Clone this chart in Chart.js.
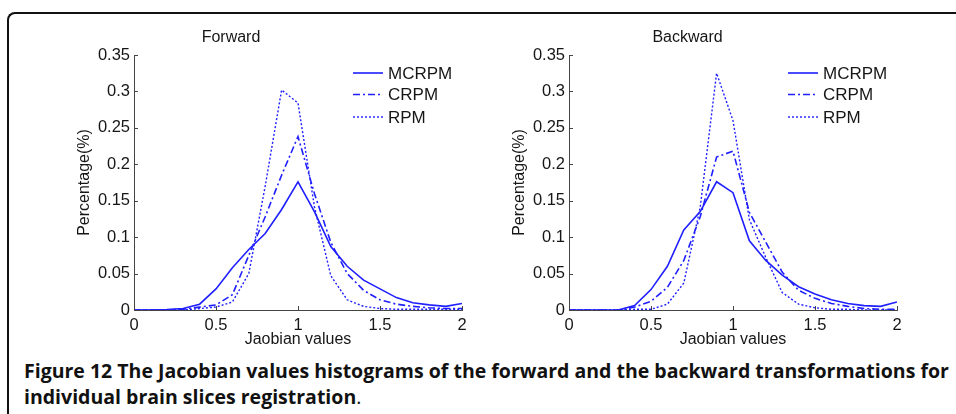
<!DOCTYPE html>
<html><head><meta charset="utf-8">
<script src="https://cdn.jsdelivr.net/npm/chart.js@4"></script>
<style>
html,body{margin:0;padding:0;background:#fff;width:956px;height:414px;overflow:hidden;position:relative;}
#frame{position:absolute;left:7px;top:12px;width:1000px;height:500px;border-top:2px solid #111;border-left:2px solid #111;border-top-left-radius:8px;}
.cv{position:absolute;top:0;}
#c1{left:0px} #c2{left:478px}
#cap{position:absolute;left:24px;top:358px;font-family:'Open Sans';font-size:15px;line-height:26px;color:#111;font-weight:700;white-space:nowrap;}
#cap .ln{display:block;}
#cap .n{font-weight:400;}
</style></head><body>
<div id="frame"></div>
<canvas id="c1" class="cv" width="478" height="350"></canvas>
<canvas id="c2" class="cv" width="478" height="350"></canvas>
<div id="cap"><span class="ln" id="l1">Figure 12 The Jacobian values histograms of the forward and the backward transformations for</span><span class="ln" id="l2">individual brain slices registration<span class="n">.</span></span></div>
<script>
const jacobianValues = [0,0.1,0.2,0.3,0.4,0.5,0.6,0.7,0.8,0.9,1.0,1.1,1.2,1.3,1.4,1.5,1.6,1.7,1.8,1.9,2.0];
const seriesNames = ['MCRPM','CRPM','RPM'];
const panelTitles = ['Forward','Backward'];
const xTickValues = [0,0.5,1,1.5,2];
const yTickValues = [0,0.05,0.1,0.15,0.2,0.25,0.3,0.35];

const forwardMCRPM  = [0,0,0.0005,0.002,0.008,0.029,0.058,0.083,0.105,0.138,0.176,0.135,0.087,0.060,0.041,0.029,0.017,0.010,0.007,0.005,0.009];
const forwardCRPM   = [0,0,0,0.001,0.004,0.007,0.021,0.075,0.128,0.185,0.238,0.160,0.093,0.050,0.027,0.014,0.008,0.005,0.003,0.002,0.002];
const forwardRPM    = [0,0,0,0,0.002,0.004,0.011,0.050,0.170,0.302,0.284,0.142,0.047,0.014,0.005,0.002,0.001,0.001,0.001,0.001,0.001];

const backwardMCRPM = [0,0,0,0,0.006,0.028,0.060,0.110,0.135,0.176,0.161,0.095,0.068,0.048,0.032,0.022,0.014,0.009,0.006,0.005,0.011];
const backwardCRPM  = [0,0,0,0,0.004,0.012,0.031,0.068,0.128,0.210,0.218,0.134,0.093,0.052,0.027,0.016,0.009,0.005,0.002,0.001,0.001];
const backwardRPM   = [0,0,0,0,0.001,0.001,0.008,0.037,0.141,0.325,0.260,0.124,0.072,0.024,0.008,0.003,0.001,0.001,0,0,0];

const LINE = '#1f1fff';
const TEXT = '#161616';
const AXIS = '#444';
const FONT = 'Liberation Sans';
const lineStyles = [
  {borderDash: [], borderWidth: 1.6},
  {borderDash: [7,3,2,3], borderWidth: 1.6},
  {borderDash: [2,2], borderWidth: 1.4}
];

const inwardTicks = {
  id: 'inwardTicks',
  afterDatasetsDraw(chart) {
    const {ctx, chartArea: a, scales: {x, y}} = chart;
    ctx.save();
    ctx.strokeStyle = AXIS; ctx.lineWidth = 1;
    ctx.beginPath();
    x.ticks.forEach(t => { const px = Math.round(x.getPixelForValue(t.value)) + 0.5; ctx.moveTo(px, a.bottom); ctx.lineTo(px, a.bottom - 4); });
    y.ticks.forEach(t => { const py = Math.round(y.getPixelForValue(t.value)) + 0.5; ctx.moveTo(a.left, py); ctx.lineTo(a.left + 4, py); });
    ctx.stroke();
    ctx.restore();
  }
};

const innerLegend = {
  id: 'innerLegend',
  afterDraw(chart) {
    const {ctx, chartArea: a} = chart;
    const rows = [18, 39.5, 62];
    chart.data.datasets.forEach((ds, i) => {
      const yy = a.top + rows[i];
      ctx.save();
      ctx.strokeStyle = ds.borderColor; ctx.lineWidth = ds.borderWidth;
      ctx.setLineDash(ds.borderDash || []);
      ctx.beginPath(); ctx.moveTo(a.left + 219, yy); ctx.lineTo(a.left + 249, yy); ctx.stroke();
      ctx.setLineDash([]);
      ctx.fillStyle = TEXT; ctx.font = '17px "' + FONT + '"'; ctx.textBaseline = 'middle';
      ctx.fillText(ds.label, a.left + 254, yy + 1);
      ctx.restore();
    });
  }
};

function makeChart(id, title, series, padRight, yScaleWidth, yTitlePad) {
  return new Chart(document.getElementById(id), {
    type: 'line',
    data: {
      datasets: series.map((vals, i) => ({
        label: seriesNames[i],
        data: jacobianValues.map((xv, k) => ({x: xv, y: vals[k]})),
        borderColor: LINE,
        borderWidth: lineStyles[i].borderWidth,
        borderDash: lineStyles[i].borderDash,
        pointRadius: 0,
        tension: 0,
        fill: false
      }))
    },
    options: {
      responsive: false, animation: false, devicePixelRatio: 1,
      layout: {padding: {left: 0, right: padRight, top: 0, bottom: 0}},
      plugins: {
        legend: {display: false}, tooltip: {enabled: false},
        title: {display: true, text: title, color: TEXT, font: {family: FONT, size: 16, weight: 'normal'}, padding: {top: 28, bottom: 7.8}}
      },
      scales: {
        x: {
          type: 'linear', min: 0, max: 2,
          afterBuildTicks: s => { s.ticks = xTickValues.map(v => ({value: v})); },
          afterFit: s => { s.height = 40; },
          grid: {display: false, drawTicks: false},
          border: {display: true, color: AXIS, width: 1},
          ticks: {padding: 6, color: TEXT, font: {family: FONT, size: 16.5}, maxRotation: 0, autoSkip: false, callback: v => String(v)},
          title: {display: true, text: 'Jaobian values', color: TEXT, font: {family: FONT, size: 16}, padding: {top: 0, bottom: 1}}
        },
        y: {
          type: 'linear', min: 0, max: 0.35,
          afterBuildTicks: s => { s.ticks = yTickValues.map(v => ({value: v})); },
          afterFit: s => { s.width = yScaleWidth; },
          grid: {display: false, drawTicks: false},
          border: {display: true, color: AXIS, width: 1},
          ticks: {padding: 4, color: TEXT, font: {family: FONT, size: 16.5}, autoSkip: false, callback: v => String(+v.toFixed(2))},
          title: {display: true, text: 'Percentage(%)', color: TEXT, font: {family: FONT, size: 16}, padding: {top: yTitlePad, bottom: 0}}
        }
      }
    },
    plugins: [inwardTicks, innerLegend]
  });
}

makeChart('c1', panelTitles[0], [forwardMCRPM, forwardCRPM, forwardRPM], 16, 134, 75.4);
makeChart('c2', panelTitles[1], [backwardMCRPM, backwardCRPM, backwardRPM], 59, 91, 32.4);

// fit caption line 1 to its width in the reference by font size
(function(){
  const cap = document.getElementById('cap');
  const l1 = document.getElementById('l1');
  const target = 925;
  const w = l1.getBoundingClientRect().width;
  const fs = 15 * target / w;
  cap.style.fontSize = fs + 'px';
})();
</script>
</body></html>
